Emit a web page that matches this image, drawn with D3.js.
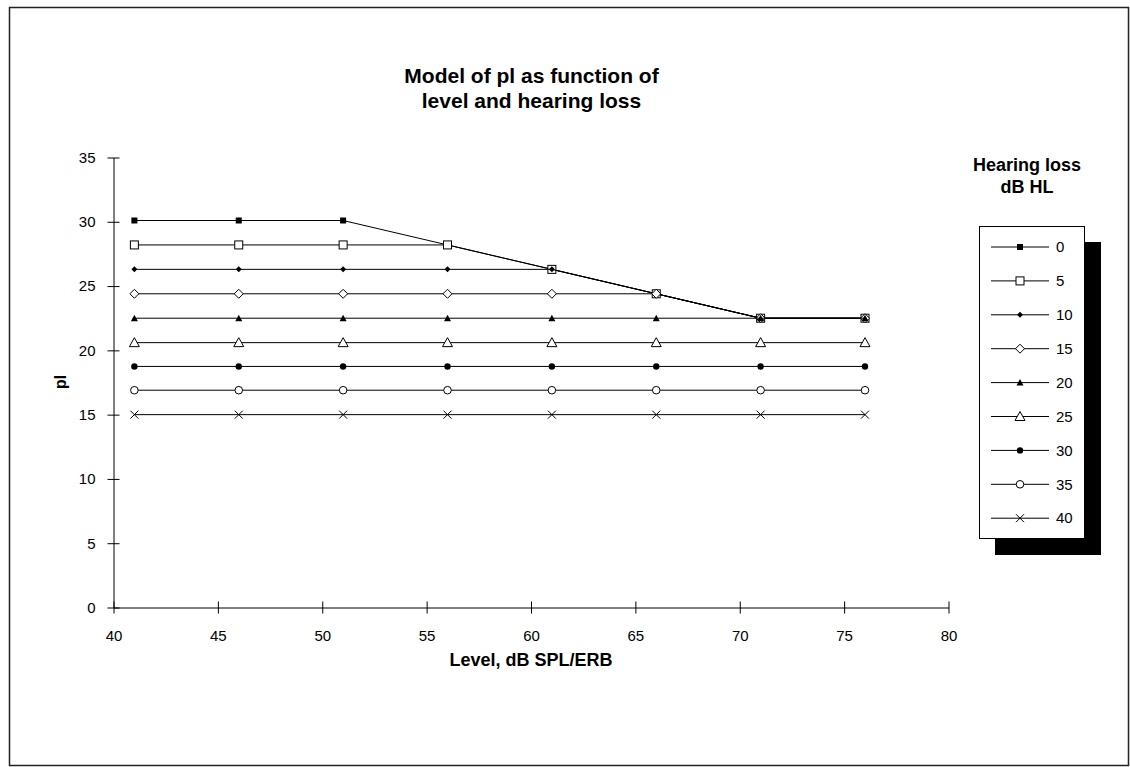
<!DOCTYPE html>
<html>
<head>
<meta charset="utf-8">
<script src="https://cdn.jsdelivr.net/npm/d3@7"></script>
<style>
  html, body { margin: 0; padding: 0; background: #fff; }
  svg { display: block; font-family: "Liberation Sans", Arial, sans-serif; }
</style>
</head>
<body>
<svg id="chart" width="1130" height="767"></svg>
<script>
// ---- data ----
const levels = [41, 46, 51, 56, 61, 66, 71, 76];
const hearingLoss = ["0", "5", "10", "15", "20", "25", "30", "35", "40"];
const pl_0  = [30.1, 30.1, 30.1, 28.2, 26.3, 24.4, 22.5, 22.5];
const pl_5  = [28.2, 28.2, 28.2, 28.2, 26.3, 24.4, 22.5, 22.5];
const pl_10 = [26.3, 26.3, 26.3, 26.3, 26.3, 24.4, 22.5, 22.5];
const pl_15 = [24.4, 24.4, 24.4, 24.4, 24.4, 24.4, 22.5, 22.5];
const pl_20 = [22.5, 22.5, 22.5, 22.5, 22.5, 22.5, 22.5, 22.5];
const pl_25 = [20.6, 20.6, 20.6, 20.6, 20.6, 20.6, 20.6, 20.6];
const pl_30 = [18.75, 18.75, 18.75, 18.75, 18.75, 18.75, 18.75, 18.75];
const pl_35 = [16.9, 16.9, 16.9, 16.9, 16.9, 16.9, 16.9, 16.9];
const pl_40 = [15, 15, 15, 15, 15, 15, 15, 15];
const xTicks = [40, 45, 50, 55, 60, 65, 70, 75, 80];
const yTicks = [0, 5, 10, 15, 20, 25, 30, 35];
const titleLines = ["Model of pl as function of", "level and hearing loss"];
const xLabel = "Level, dB SPL/ERB";
const yLabel = "pl";
const legendTitle = ["Hearing loss", "dB HL"];
const markerTypes = ["sqFill", "sqOpen", "diaFill", "diaOpen", "triFill", "triOpen", "cirFill", "cirOpen", "cross"];

const seriesValues = [pl_0, pl_5, pl_10, pl_15, pl_20, pl_25, pl_30, pl_35, pl_40];
const series = hearingLoss.map((name, i) => ({
  name, marker: markerTypes[i],
  points: levels.map((lv, j) => ({ x: lv, y: seriesValues[i][j] }))
}));

// ---- layout ----
const svg = d3.select("#chart");
const x = d3.scaleLinear().domain([40, 80]).range([113.5, 948.5]);
const y = d3.scaleLinear().domain([0, 35]).range([607.5, 157.5]);

// outer frame
svg.append("rect").attr("x", 9.5).attr("y", 7.5).attr("width", 1119).attr("height", 758)
  .attr("fill", "#fff").attr("stroke", "#222").attr("stroke-width", 1.5);

// title
svg.append("g").selectAll("text").data(titleLines).join("text")
  .attr("x", 531.5).attr("y", (d, i) => 83 + i * 24.5)
  .attr("text-anchor", "middle").attr("font-size", 21).attr("font-weight", "bold")
  .text(d => d);

// axes
const yAxis = d3.axisLeft(y).tickValues(yTicks).tickSizeInner(6).tickSizeOuter(0).tickPadding(12);
const gy = svg.append("g").attr("transform", `translate(${x(40)},0)`).call(yAxis);
gy.selectAll(".tick line").attr("x1", 6);
const xAxis = d3.axisBottom(x).tickValues(xTicks).tickSizeInner(6).tickSizeOuter(0).tickPadding(16.5);
const gx = svg.append("g").attr("transform", `translate(0,${y(0)})`).call(xAxis);
gx.selectAll(".tick line").attr("y1", -6);
[gx, gy].forEach(g => {
  g.selectAll("text").attr("font-size", 15).attr("fill", "#000")
    .attr("font-family", "Liberation Sans, Arial, sans-serif");
  g.selectAll("line, path").attr("stroke", "#000");
});

// axis labels
svg.append("text").attr("x", 531).attr("y", 666).attr("text-anchor", "middle")
  .attr("font-size", 18).attr("font-weight", "bold").text(xLabel);
svg.append("text").attr("transform", "translate(66,382) rotate(-90)").attr("text-anchor", "middle")
  .attr("font-size", 16).attr("font-weight", "bold").text(yLabel);

// markers
function drawMarker(g, type, cx, cy) {
  switch (type) {
    case "sqFill":
      g.append("rect").attr("x", cx - 3).attr("y", cy - 3).attr("width", 6).attr("height", 6).attr("fill", "#000");
      break;
    case "sqOpen":
      g.append("rect").attr("x", cx - 4).attr("y", cy - 4).attr("width", 8).attr("height", 8)
        .attr("fill", "#fff").attr("stroke", "#000").attr("stroke-width", 1);
      break;
    case "diaFill":
      g.append("path").attr("d", `M${cx},${cy - 3}L${cx + 3},${cy}L${cx},${cy + 3}L${cx - 3},${cy}Z`).attr("fill", "#000");
      break;
    case "diaOpen":
      g.append("path").attr("d", `M${cx},${cy - 4.5}L${cx + 4.5},${cy}L${cx},${cy + 4.5}L${cx - 4.5},${cy}Z`)
        .attr("fill", "#fff").attr("stroke", "#000").attr("stroke-width", 1);
      break;
    case "triFill":
      g.append("path").attr("d", `M${cx},${cy - 3.5}L${cx + 3.5},${cy + 3}L${cx - 3.5},${cy + 3}Z`).attr("fill", "#000");
      break;
    case "triOpen":
      g.append("path").attr("d", `M${cx},${cy - 5}L${cx + 5},${cy + 4}L${cx - 5},${cy + 4}Z`)
        .attr("fill", "#fff").attr("stroke", "#000").attr("stroke-width", 1);
      break;
    case "cirFill":
      g.append("circle").attr("cx", cx).attr("cy", cy).attr("r", 3.2).attr("fill", "#000");
      break;
    case "cirOpen":
      g.append("circle").attr("cx", cx).attr("cy", cy).attr("r", 3.8)
        .attr("fill", "#fff").attr("stroke", "#000").attr("stroke-width", 1);
      break;
    case "cross":
      g.append("path").attr("d", `M${cx - 4},${cy - 4}L${cx + 4},${cy + 4}M${cx - 4},${cy + 4}L${cx + 4},${cy - 4}`)
        .attr("stroke", "#000").attr("stroke-width", 1).attr("fill", "none");
      break;
  }
}

// series
const line = d3.line().x(d => x(d.x)).y(d => y(d.y));
const plot = svg.append("g");
series.forEach(s => {
  const g = plot.append("g");
  g.append("path").datum(s.points).attr("d", line)
    .attr("fill", "none").attr("stroke", "#000").attr("stroke-width", 1);
  s.points.forEach(p => drawMarker(g, s.marker, x(p.x), y(p.y)));
});

// legend
svg.append("g").selectAll("text").data(legendTitle).join("text")
  .attr("x", 1027).attr("y", (d, i) => 171 + i * 22)
  .attr("text-anchor", "middle").attr("font-size", 18).attr("font-weight", "bold")
  .text(d => d);
svg.append("rect").attr("x", 995).attr("y", 242).attr("width", 106).attr("height", 313).attr("fill", "#000");
svg.append("rect").attr("x", 979.5).attr("y", 226.5).attr("width", 105).attr("height", 312)
  .attr("fill", "#fff").attr("stroke", "#000").attr("stroke-width", 1);
const leg = svg.append("g");
series.forEach((s, i) => {
  const ly = 247 + i * 33.9;
  const g = leg.append("g");
  g.append("line").attr("x1", 991).attr("x2", 1049).attr("y1", ly).attr("y2", ly)
    .attr("stroke", "#000").attr("stroke-width", 1);
  drawMarker(g, s.marker, 1020, ly);
  g.append("text").attr("x", 1056).attr("y", ly).attr("dy", "0.35em")
    .attr("font-size", 15).text(s.name);
});
</script>
</body>
</html>
